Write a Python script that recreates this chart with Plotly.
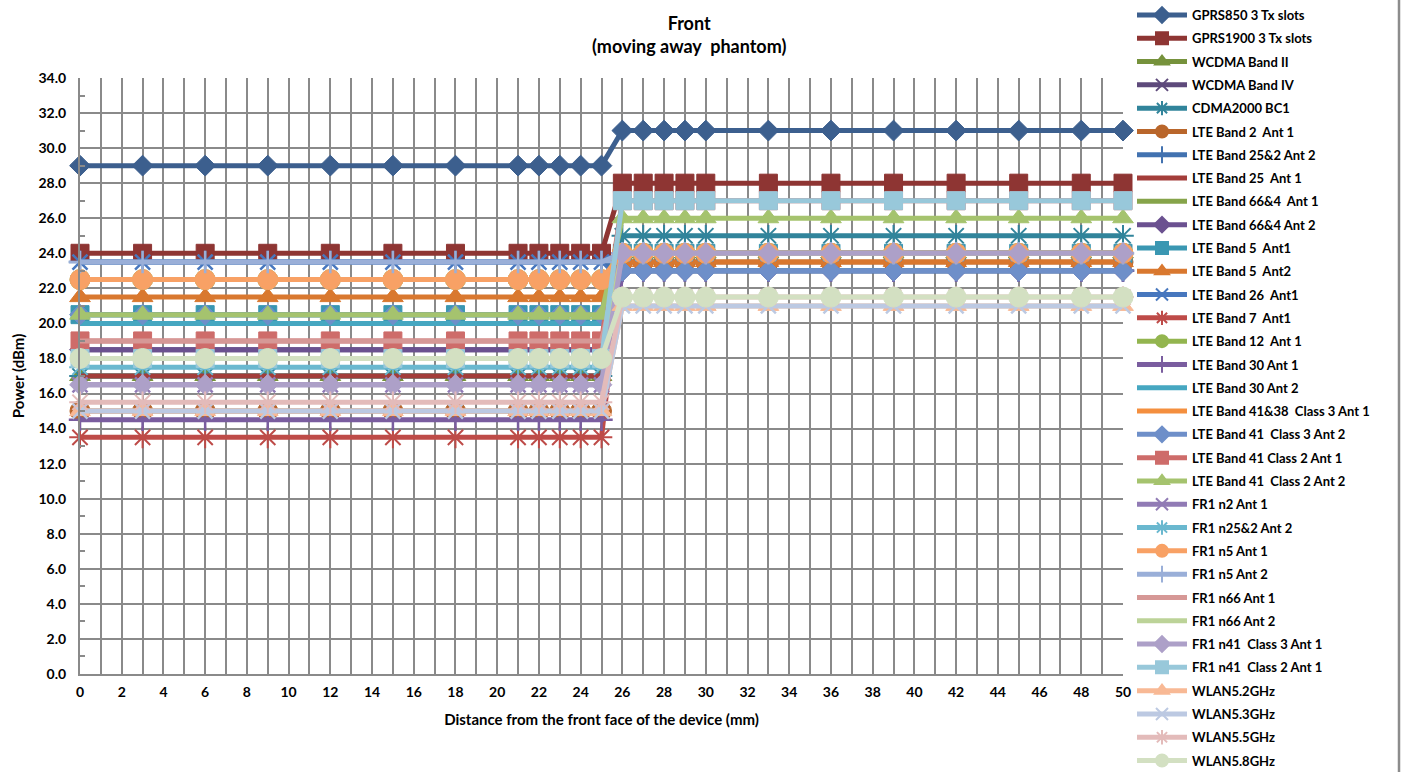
import plotly.graph_objects as go

# Measurement positions (mm from the front face)
distance_mm = [0, 3, 6, 9, 12, 15, 18, 21, 22, 23, 24, 25,
               26, 27, 28, 29, 30, 33, 36, 39, 42, 45, 48, 50]
near_count = 12  # points at 0-25 mm (reduced power)
far_count = 12   # points at 26-50 mm (full power)

series_names = [
    "GPRS850 3 Tx slots", "GPRS1900 3 Tx slots", "WCDMA Band II", "WCDMA Band IV",
    "CDMA2000 BC1", "LTE Band 2  Ant 1", "LTE Band 25&2 Ant 2", "LTE Band 25  Ant 1",
    "LTE Band 66&4  Ant 1", "LTE Band 66&4 Ant 2", "LTE Band 5  Ant1", "LTE Band 5  Ant2",
    "LTE Band 26  Ant1", "LTE Band 7  Ant1", "LTE Band 12  Ant 1", "LTE Band 30 Ant 1",
    "LTE Band 30 Ant 2", "LTE Band 41&38  Class 3 Ant 1", "LTE Band 41  Class 3 Ant 2",
    "LTE Band 41 Class 2 Ant 1", "LTE Band 41  Class 2 Ant 2", "FR1 n2 Ant 1",
    "FR1 n25&2 Ant 2", "FR1 n5 Ant 1", "FR1 n5 Ant 2", "FR1 n66 Ant 1", "FR1 n66 Ant 2",
    "FR1 n41  Class 3 Ant 1", "FR1 n41  Class 2 Ant 1", "WLAN5.2GHz", "WLAN5.3GHz",
    "WLAN5.5GHz", "WLAN5.8GHz",
]

# Power level (dBm) in the 0-25 mm region
near_dbm = [29.0, 24.0, 17.0, 18.5, 17.0, 15.0, 23.5, 17.0,
            20.5, 18.5, 20.5, 21.5, 23.5, 13.5, 22.5, 14.5,
            20.0, 22.5, 20.5, 19.0, 20.5, 16.5, 17.5, 22.5,
            23.5, 19.0, 18.0, 16.5, 18.0, 15.0, 15.0, 15.5, 18.0]

# Power level (dBm) in the 26-50 mm region
far_dbm = [31.0, 28.0, 24.0, 24.0, 25.0, 23.5, 23.0, 24.0,
           24.0, 23.0, 24.0, 23.5, 24.0, 24.0, 24.0, 23.0,
           23.0, 24.0, 23.0, 27.0, 26.0, 24.0, 24.0, 24.0,
           24.0, 24.0, 24.0, 24.0, 27.0, 21.0, 21.0, 21.5, 21.5]

series_colors = [
    "#3C5F8E", "#8E3533", "#76923C", "#5E4A7B", "#31849B", "#B9662B",
    "#4272B0", "#A33D3A", "#86A44A", "#6B5190", "#3A97B2", "#D9782F",
    "#4777BE", "#BE4B48", "#93B54F", "#7A5D9F", "#46A7C1", "#F48F3F",
    "#6E8FC9", "#CE6C6A", "#A5C36E", "#917BB5", "#6AB8CF", "#F8A165",
    "#9AAFD8", "#D69896", "#BCD398", "#ADA0C8", "#98C8DA", "#F8B995",
    "#BCC9E2", "#E3BBBA", "#D3E0C2",
]

marker_cycle = ["diamond", "square", "triangle", "x", "star", "circle", "plus", None, None]

MARKER_STYLE = {
    "diamond": dict(symbol="diamond", size=16, lw=1),
    "square": dict(symbol="square", size=18, lw=1),
    "triangle": dict(symbol="triangle-up", size=18, lw=1),
    "x": dict(symbol="x-thin-open", size=15, lw=2.5),
    "star": dict(symbol="asterisk-open", size=18, lw=2),
    "circle": dict(symbol="circle", size=20, lw=1),
    "plus": dict(symbol="cross-thin-open", size=16, lw=2.5),
}

FONT = "Lato"
GRID = "#8A8A8A"

# Plot-area geometry in pixels
W, H = 1409, 772
L, R, T, B = 80, 1123, 78, 674
pw, ph = R - L, B - T


def px_x(x):
    return (x - L) / pw


def px_y(y):
    return (B - y) / ph


fig = go.Figure()

for i, name in enumerate(series_names):
    values = [near_dbm[i]] * near_count + [far_dbm[i]] * far_count
    color = series_colors[i]
    kind = marker_cycle[i % len(marker_cycle)]
    trace = dict(
        x=distance_mm, y=values, name=name, legendgroup=name,
        line=dict(color=color, width=5),
        cliponaxis=False,
    )
    if kind is None:
        trace["mode"] = "lines"
    else:
        st = MARKER_STYLE[kind]
        trace["mode"] = "lines+markers"
        trace["marker"] = dict(
            symbol=st["symbol"], size=st["size"], color=color,
            line=dict(color=color, width=st["lw"]),
        )
    fig.add_trace(go.Scatter(**trace))

axis_font = dict(family=FONT, size=15, weight="bold", color="#000000")
tick_font = dict(family=FONT, size=14, weight="bold", color="#000000")

fig.update_layout(
    width=W, height=H, autosize=False,
    margin=dict(l=L, r=W - R, t=T, b=H - B, pad=0, autoexpand=False),
    paper_bgcolor="white", plot_bgcolor="white",
    font=dict(family=FONT, size=13, color="#000000"),
    showlegend=True,
    legend=dict(
        x=px_x(1132), xanchor="left", y=px_y(0), yanchor="top",
        bgcolor="rgba(0,0,0,0)", borderwidth=0, maxheight=900,
        font=dict(family=FONT, size=13, color="#000000", weight="bold"),
        tracegroupgap=3.4, itemsizing="constant", itemwidth=50,
    ),
    xaxis=dict(
        range=[0, 50], dtick=2, tick0=0,
        showgrid=True, gridcolor=GRID, gridwidth=2,
        minor=dict(dtick=1, showgrid=True, gridcolor=GRID, gridwidth=2),
        showline=True, linecolor=GRID, linewidth=2,
        zeroline=False, ticks="", ticklabelstandoff=4,
        tickfont=tick_font, automargin=False,
        title=dict(text="Distance from the front face of the device (mm)",
                   font=axis_font, standoff=16),
    ),
    yaxis=dict(
        range=[0, 34], dtick=2, tick0=0, tickformat=".1f",
        showgrid=True, gridcolor=GRID, gridwidth=2,
        minor=dict(dtick=1, ticks="inside", ticklen=5, tickcolor=GRID, tickwidth=1.5),
        showline=True, linecolor=GRID, linewidth=2,
        zeroline=False, ticks="", ticklabelstandoff=9,
        tickfont=tick_font, automargin=False,
        title=dict(text="Power (dBm)", font=axis_font, standoff=10),
    ),
    annotations=[
        dict(text="<b>Front</b><br><b>(moving away\u00a0 phantom)</b>",
             x=px_x(689), y=px_y(34), xref="paper", yref="paper",
             xanchor="center", yanchor="middle", showarrow=False,
             font=dict(family=FONT, size=18, color="#000000")),
    ],
    shapes=[
        dict(type="line", xref="paper", yref="paper",
             x0=px_x(1399), x1=px_x(1399), y0=px_y(0), y1=px_y(H),
             line=dict(color="#8C8C8C", width=2.5)),
    ],
)

fig.write_html("out.html")
